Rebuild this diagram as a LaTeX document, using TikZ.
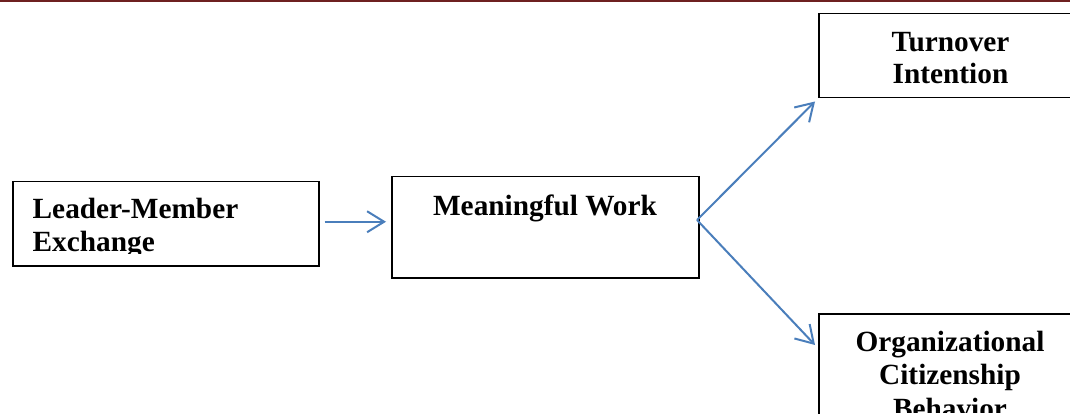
\documentclass[tikz,border=0pt]{standalone}
\usepackage{fontspec}
\setmainfont{Liberation Serif}
\usetikzlibrary{arrows.meta}
\definecolor{topred}{RGB}{110,32,32}
\definecolor{arrowblue}{RGB}{74,126,187}
\tikzset{
  boxnode/.style={draw=black, line width=1.5pt, rectangle, inner sep=0pt},
  lbl/.style={inner sep=0pt, font=\fontsize{29.3}{32.5}\selectfont\bfseries},
  flow/.style={draw=arrowblue, line width=2pt, -{Straight Barb[length=17pt,width=21pt,line width=2pt]}}
}
\begin{document}
\begin{tikzpicture}[x=1pt,y=-1pt]
\useasboundingbox (0,0) rectangle (1070,414);
\begin{scope}
\clip (0,0) rectangle (1070,414);
\fill[topred] (0,0) rectangle (1070,2.4);
% boxes
\node[boxnode, minimum width=306pt, minimum height=84pt, anchor=north west] (lmx) at (12,181) {};
\node[boxnode, minimum width=307pt, minimum height=101pt, anchor=north west] (mw) at (391,176) {};
\node[boxnode, minimum width=300pt, minimum height=84pt, anchor=north west] (tu) at (818,13) {};
\node[boxnode, minimum width=300pt, minimum height=140pt, anchor=north west] (ocb) at (818,313) {};
% texts
\begin{scope}
\clip (12,181) rectangle (318,253);
\node[lbl, anchor=base west] (lmxa) at (32.5,218.5) {Leader-Member};
\node[lbl, anchor=base west] (lmxb) at (32.5,251) {Exchange};
\end{scope}
\node[lbl, anchor=base] (mwa) at (545,215) {Meaningful Work};
\node[lbl, anchor=base] (tua) at (950.5,51.7) {Turnover};
\node[lbl, anchor=base] (tub) at (950.5,84) {Intention};
\begin{scope}
\clip (818,313) rectangle (1070,412);
\node[lbl, anchor=base] (ocba) at (950,351.7) {Organizational};
\node[lbl, anchor=base] (ocbb) at (950,384) {Citizenship};
\node[lbl, anchor=base] (ocbc) at (950,418) {Behavior};
\end{scope}
% connectors
\coordinate (fork) at (697,220);
\draw[flow] ([shift={(5,-2)}]lmx.east) -- ([shift={(-5,-2)}]lmx.east -| mw.west);
\draw[flow] (fork) -- ([shift={(-3,3)}]tu.south west);
\draw[flow] (fork) -- ([shift={(-3,32)}]ocb.north west);
\end{scope}
\end{tikzpicture}
\end{document}
